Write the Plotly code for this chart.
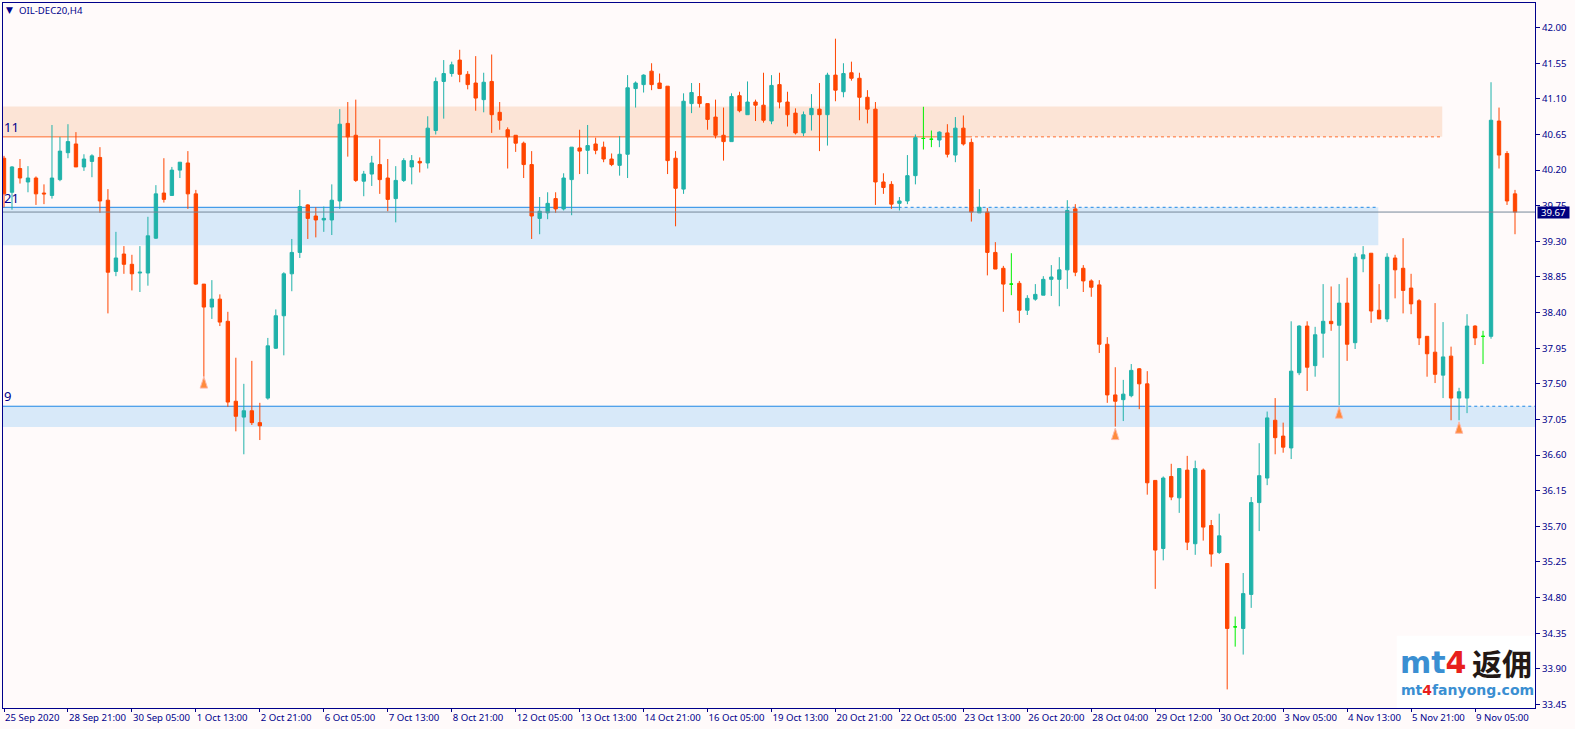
import plotly.graph_objects as go

highs = [40.38,40.25,40.34,40.25,40.12,40.02,40.77,40.62,40.78,40.68,40.40,40.40,40.49,39.96,39.42,39.24,39.13,39.24,39.61,40.01,
40.35,40.24,40.30,40.44,39.95,38.76,38.81,38.63,38.41,37.83,37.50,37.79,37.26,38.08,38.44,38.91,39.33,39.95,39.77,39.73,
39.74,40.02,40.97,41.06,41.09,40.19,40.38,40.59,40.34,40.25,40.35,40.39,40.36,40.88,41.37,41.59,41.57,41.72,41.45,41.64,
41.43,41.66,41.06,40.74,40.64,40.56,40.44,39.86,39.92,39.92,40.16,40.49,40.71,40.77,40.61,40.56,40.41,40.63,41.40,41.32,
41.41,41.55,41.42,41.26,40.44,41.17,41.30,41.30,41.04,41.09,40.99,41.17,41.19,41.32,41.09,41.43,41.40,41.43,41.19,40.98,
40.94,41.16,41.30,41.43,41.86,41.55,41.57,41.43,41.21,41.06,40.16,40.06,39.86,40.39,40.65,41.00,40.70,40.69,40.78,40.87,
40.89,40.60,39.96,39.72,39.29,38.99,39.15,38.80,38.62,38.76,38.86,39.00,39.10,39.82,39.77,39.00,38.82,38.81,38.09,37.71,
37.55,37.75,37.70,37.66,36.28,36.33,36.49,36.43,36.59,36.53,36.43,35.78,35.86,35.23,34.56,35.11,36.07,36.75,37.15,37.32,
37.01,38.29,38.24,38.29,38.22,38.76,38.73,38.76,38.84,39.15,39.24,39.15,38.76,39.15,39.13,39.34,38.89,38.57,38.10,38.52,
38.28,37.97,37.45,38.38,38.24,38.17,41.31,40.99,40.44,39.95]
lows = [39.73,39.70,40.03,39.92,39.76,39.77,39.84,40.06,40.35,40.24,40.19,40.11,39.66,38.39,38.86,38.89,38.68,38.66,38.74,39.33,
39.79,39.88,40.10,39.71,38.75,37.59,38.32,38.23,37.21,36.90,36.61,36.98,36.79,37.30,37.94,37.86,38.67,39.09,39.33,39.35,
39.42,39.38,39.71,40.37,40.05,39.87,40.00,39.90,39.68,39.54,40.05,40.02,40.17,40.22,40.65,40.85,41.38,41.31,41.22,40.95,
40.93,40.67,40.71,40.22,40.43,40.10,39.33,39.39,39.58,39.66,39.69,39.63,40.15,40.15,40.40,40.30,40.25,40.13,40.10,40.99,
41.18,41.21,41.23,40.15,39.49,39.90,40.92,40.99,40.71,40.60,40.32,40.56,40.93,40.90,40.82,40.80,40.78,40.98,40.75,40.65,
40.63,40.70,40.44,40.51,41.07,41.12,41.33,40.83,40.79,39.76,39.90,39.71,39.69,39.77,40.02,40.46,40.49,40.49,40.36,40.30,
40.51,39.55,39.66,38.87,38.95,38.41,38.62,38.27,38.37,38.55,38.62,38.61,38.48,38.70,38.86,38.66,38.60,37.89,37.26,36.96,
37.03,37.33,37.18,36.10,34.91,35.27,36.03,35.87,35.40,35.34,35.52,35.19,35.35,33.64,34.18,34.08,34.67,35.64,36.22,36.61,
36.63,36.55,37.61,37.41,37.59,37.83,38.17,37.23,37.79,37.94,38.91,38.27,38.32,38.28,38.58,38.39,38.38,37.99,37.59,37.51,
37.32,37.04,37.04,37.13,37.99,37.75,38.07,40.22,39.76,39.39]
opens = [40.35,39.92,40.22,40.05,40.10,39.91,39.88,40.08,40.42,40.53,40.24,40.31,40.36,39.82,38.92,39.14,39.01,38.90,38.90,39.34,
39.91,39.88,40.20,40.29,39.90,38.76,38.47,38.57,38.29,37.28,37.08,37.16,37.01,37.32,37.95,38.36,38.89,39.16,39.76,39.62,
39.57,39.57,39.81,40.79,40.64,40.06,40.15,40.27,40.10,39.84,40.07,40.24,40.31,40.29,40.70,41.32,41.42,41.59,41.41,41.30,
41.09,41.32,40.93,40.71,40.64,40.54,40.27,39.59,39.66,39.84,39.71,40.08,40.48,40.45,40.53,40.49,40.34,40.26,40.40,41.23,
41.28,41.45,41.30,41.26,40.35,39.96,41.04,41.13,41.04,40.87,40.64,40.56,41.14,40.90,41.06,41.02,40.82,41.28,41.06,40.92,
40.67,40.90,40.97,40.90,41.40,41.19,41.43,41.36,41.12,40.97,40.05,40.02,39.78,39.81,40.13,40.60,40.59,40.58,40.67,40.39,
40.73,40.55,39.66,39.67,39.16,38.96,38.76,38.77,38.43,38.57,38.62,38.82,38.82,38.94,39.71,38.96,38.80,38.75,38.00,37.36,
37.30,37.35,37.69,37.50,36.28,35.42,36.33,36.06,36.41,35.48,36.41,35.71,35.37,35.23,34.43,34.41,34.84,36.00,36.31,37.04,
36.84,36.69,37.64,38.23,37.73,38.14,38.29,38.24,38.52,38.02,39.08,39.15,38.43,38.32,39.09,38.96,38.71,38.55,38.10,37.90,
37.61,37.85,37.32,37.32,38.23,38.10,38.10,40.82,40.41,39.90]
closes = [39.90,40.24,40.10,40.10,39.90,39.90,40.10,40.44,40.56,40.24,40.34,40.38,39.81,38.91,39.09,39.01,38.89,38.91,39.37,39.90,
39.83,40.20,40.30,39.90,38.76,38.47,38.57,38.28,37.27,37.09,37.16,37.01,36.97,37.98,38.36,38.89,39.16,39.74,39.59,39.57,
39.59,39.82,40.78,40.62,40.07,40.15,40.29,40.08,39.83,40.07,40.32,40.32,40.29,40.73,41.32,41.42,41.53,41.41,41.28,41.11,
41.31,40.90,40.83,40.62,40.54,40.27,39.62,39.68,39.78,39.71,40.10,40.49,40.44,40.51,40.45,40.34,40.27,40.40,41.24,41.30,
41.40,41.28,41.23,40.32,39.97,41.07,41.18,41.04,40.84,40.64,40.56,41.13,40.95,41.06,41.02,40.83,41.27,41.06,40.90,40.67,
40.90,40.98,40.90,41.40,41.21,41.42,41.36,41.12,40.97,40.05,39.98,39.77,39.81,40.13,40.61,40.60,40.59,40.68,40.40,40.73,
40.53,39.67,39.73,39.16,38.95,38.76,38.76,38.43,38.58,38.63,38.82,38.85,38.94,39.69,38.91,38.80,38.72,38.00,37.36,37.28,
37.37,37.67,37.50,36.25,35.40,36.31,36.07,36.43,35.50,36.43,35.69,35.35,35.58,34.41,34.43,34.85,36.00,36.34,37.07,36.82,
36.70,37.66,38.23,37.71,38.12,38.29,38.26,38.52,38.00,39.10,39.13,38.42,38.32,39.10,38.94,38.68,38.51,38.08,37.88,37.62,
37.84,37.32,37.40,38.23,38.08,38.10,40.83,40.39,39.81,39.67]

green_bars = [115, 116, 126, 154, 185]
arrow_bars = [25, 139, 167, 182]
arrow_prices = [37.59, 36.94, 37.21, 37.02]

x_tick_bars = list(range(0, 185, 8))
x_tick_labels = ["25 Sep 2020","28 Sep 21:00","30 Sep 05:00","1 Oct 13:00","2 Oct 21:00","6 Oct 05:00",
"7 Oct 13:00","8 Oct 21:00","12 Oct 05:00","13 Oct 13:00","14 Oct 21:00","16 Oct 05:00",
"19 Oct 13:00","20 Oct 21:00","22 Oct 05:00","23 Oct 13:00","26 Oct 20:00","28 Oct 04:00",
"29 Oct 12:00","30 Oct 20:00","3 Nov 05:00","4 Nov 13:00","5 Nov 21:00","9 Nov 05:00"]
y_ticks = [42.00,41.55,41.10,40.65,40.20,39.75,39.30,38.85,38.40,37.95,37.50,37.05,36.60,36.15,35.70,35.25,34.80,34.35,33.90,33.45]

last_price = 39.67
supply_zone = (40.62, 41.005, 179.9, 120.7)      # low, high, end bar, bar where the line turns dashed
demand_zone_a = (39.252, 39.73, 171.9, 111.9)
demand_zone_b = (36.956, 37.217, 191.5, 182.4)
level_labels = [("11", 40.74), ("21", 39.85), ("9", 37.35)]

NAVY = "#00008B"
BG = "#FFFAFA"
TEAL = "#20B2AA"
RED = "#FF4500"
LIME = "#00F000"
FONT = "Noto Sans"
TICK_SIZE = 9.6
X_RANGE = [-0.125, 191.5]
Y_RANGE = [33.405, 42.311]

normal = [i for i in range(len(opens)) if i not in green_bars]
fig = go.Figure()
fig.add_trace(go.Candlestick(
    x=normal,
    open=[opens[i] for i in normal], high=[highs[i] for i in normal],
    low=[lows[i] for i in normal], close=[closes[i] for i in normal],
    increasing=dict(line=dict(color=TEAL, width=1), fillcolor=TEAL),
    decreasing=dict(line=dict(color=RED, width=1), fillcolor=RED),
    whiskerwidth=0, showlegend=False, hoverinfo="skip"))
fig.add_trace(go.Candlestick(
    x=green_bars,
    open=[opens[i] for i in green_bars], high=[highs[i] for i in green_bars],
    low=[lows[i] for i in green_bars], close=[closes[i] for i in green_bars],
    increasing=dict(line=dict(color=LIME, width=1), fillcolor=LIME),
    decreasing=dict(line=dict(color=LIME, width=1), fillcolor=LIME),
    whiskerwidth=0, showlegend=False, hoverinfo="skip"))
fig.add_trace(go.Scatter(
    x=arrow_bars, y=arrow_prices, mode="markers",
    marker=dict(symbol="arrow", size=12, color="#FF8A3C", line=dict(color="#FFB8A8", width=1)),
    showlegend=False, hoverinfo="skip"))

shapes = []
def zone(z, fill):
    low, high, end, brk = z
    shapes.append(dict(type="rect", xref="x", yref="y", x0=X_RANGE[0], x1=end, y0=low, y1=high,
                       fillcolor=fill, line_width=0, layer="below"))
    return high, low, end, brk

h, l, e, b = zone(supply_zone, "#FCE4D6")
shapes.append(dict(type="line", xref="x", yref="y", x0=X_RANGE[0], x1=b, y0=l, y1=l,
                   line=dict(color="#FF6A2A", width=1), layer="below"))
shapes.append(dict(type="line", xref="x", yref="y", x0=b, x1=e, y0=l, y1=l,
                   line=dict(color="#FF6A2A", width=1, dash="3px,3px"), layer="below"))
for z in (demand_zone_a, demand_zone_b):
    h, l, e, b = zone(z, "#D8E9F9")
    shapes.append(dict(type="line", xref="x", yref="y", x0=X_RANGE[0], x1=b, y0=h, y1=h,
                       line=dict(color="#1E88E5", width=1), layer="below"))
    shapes.append(dict(type="line", xref="x", yref="y", x0=b, x1=e, y0=h, y1=h,
                       line=dict(color="#1E88E5", width=1, dash="3px,3px"), layer="below"))
shapes.append(dict(type="line", xref="paper", yref="y", x0=0, x1=1, y0=last_price, y1=last_price,
                   line=dict(color="#778899", width=1), layer="above"))
shapes.append(dict(type="rect", xref="x", yref="paper", x0=174.2, x1=X_RANGE[1], y0=0, y1=0.1025,
                   fillcolor="#FFFFFF", line_width=0, layer="above"))

ann = []
for text, price in level_labels:
    ann.append(dict(text=text, xref="paper", yref="y", x=0, xshift=0, y=price, xanchor="left", yanchor="middle",
                    showarrow=False, borderpad=0, font=dict(family=FONT, size=13, color=NAVY)))
ann.append(dict(text="▼", xref="paper", yref="paper", x=0.0016, y=0.9895, xanchor="left", yanchor="middle",
                showarrow=False, borderpad=0, font=dict(family="DejaVu Sans", size=9, color=NAVY)))
ann.append(dict(text="OIL-DEC20,H4", xref="paper", yref="paper", x=0.0097, y=0.9895, xanchor="left", yanchor="middle",
                showarrow=False, borderpad=0, font=dict(family=FONT, size=TICK_SIZE, color=NAVY)))
ann.append(dict(text=f"{last_price:.2f}", xref="paper", yref="y", x=1, xshift=2, y=last_price, xanchor="left",
                yanchor="middle", showarrow=False, width=31, height=11, align="center", borderpad=0, bgcolor="#000080",
                font=dict(family=FONT, size=TICK_SIZE, color="#FFFFFF")))
ann.append(dict(text='<span style="color:#3A8FD2">mt</span><span style="color:#E8201C">4</span>',
                xref="x", yref="y", x=174.5, y=33.98, xanchor="left", yanchor="middle", showarrow=False, borderpad=0,
                font=dict(family="DejaVu Sans", size=30, color="#3A8FD2", weight="bold")))
ann.append(dict(text="返佣", xref="x", yref="y", x=191.3, y=33.98, xanchor="right", yanchor="middle", showarrow=False,
                borderpad=0, font=dict(family="Noto Sans CJK SC", size=30, color="#231815", weight="bold")))
ann.append(dict(text='mt<span style="color:#E8201C">4</span>fanyong.com', xref="x", yref="y", x=174.6, y=33.63,
                xanchor="left", yanchor="middle", showarrow=False, borderpad=0,
                font=dict(family="DejaVu Sans", size=14, color="#3A8FD2", weight="bold")))

fig.update_layout(
    width=1575, height=729, template="none", paper_bgcolor=BG, plot_bgcolor=BG,
    margin=dict(l=2.5, r=39.5, t=2.5, b=20.5, autoexpand=False),
    boxgap=0.4, showlegend=False, shapes=shapes, annotations=ann,
    xaxis=dict(range=X_RANGE, tickmode="array", tickvals=x_tick_bars, ticktext=x_tick_labels,
               ticks="outside", ticklen=3, tickcolor=NAVY, tickwidth=1, showgrid=False, zeroline=False,
               showline=True, mirror=True, linecolor=NAVY, linewidth=1, ticklabelposition="outside right",
               tickfont=dict(family=FONT, size=TICK_SIZE, color=NAVY), rangeslider=dict(visible=False), tickangle=0),
    yaxis=dict(range=Y_RANGE, side="right", tickmode="array", tickvals=y_ticks,
               ticktext=[f"{v:.2f}" for v in y_ticks], ticks="outside", ticklen=4, tickcolor=NAVY, tickwidth=1,
               showgrid=False, zeroline=False, showline=True, mirror=True, linecolor=NAVY, linewidth=1,
               tickfont=dict(family=FONT, size=TICK_SIZE, color=NAVY)),
)
fig.write_html("out.html", config=dict(displayModeBar=False),
               post_script="document.body.style.margin='0';document.body.style.overflow='hidden';")
